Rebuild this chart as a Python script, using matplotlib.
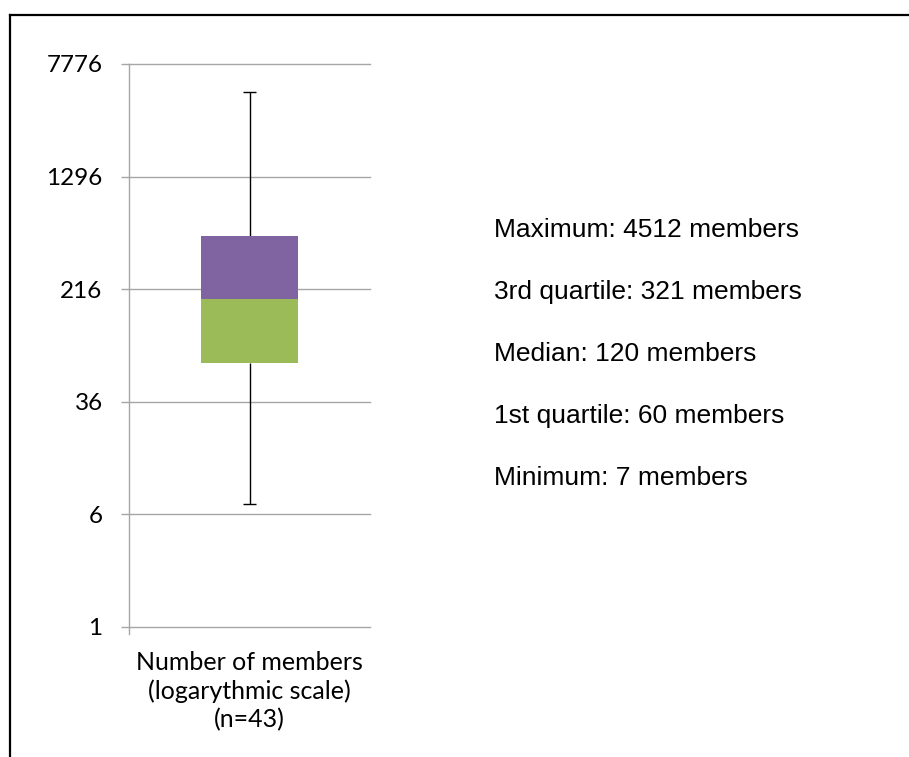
import matplotlib
matplotlib.use("Agg")
import matplotlib.pyplot as plt
from matplotlib.lines import Line2D
from matplotlib.ticker import FixedLocator, NullLocator

# ---- data (values as drawn in the picture) ----
category = ["Number of members", "(logarythmic scale)", "(n=43)"]
plot_min = 7
plot_q1 = 67
plot_median = 185
plot_q3 = 503
plot_max = 4960
y_ticks = [1, 6, 36, 216, 1296, 7776]
y_tick_labels = ["1", "6", "36", "216", "1296", "7776"]

# ---- stated summary values (text) ----
stat_names = ["Maximum", "3rd quartile", "Median", "1st quartile", "Minimum"]
stat_values = [4512, 321, 120, 60, 7]

W, H = 909, 757
fig = plt.figure(figsize=(W / 100, H / 100), dpi=100)
fig.patch.set_facecolor("white")

left, right = 129 / W, 370 / W
top, bottom = 1 - 64 / H, 1 - 626.7 / H
ax = fig.add_axes([left, bottom, right - left, top - bottom])

ax.set_yscale("log", base=6)
ax.set_ylim(y_ticks[0], y_ticks[-1])
ax.set_xlim(0, 1)

grid_col = "#A6A6A6"
ax.yaxis.set_major_locator(FixedLocator(y_ticks))
ax.yaxis.set_minor_locator(NullLocator())
ax.set_yticklabels(y_tick_labels)
ax.grid(axis="y", color=grid_col, linewidth=1.0)
ax.set_axisbelow(True)
for gl in ax.get_ygridlines():
    gl.set_clip_on(False)

for s in ["top", "right", "bottom"]:
    ax.spines[s].set_visible(False)
ax.spines["left"].set_color(grid_col)
ax.spines["left"].set_linewidth(1.0)
ax.add_line(Line2D([0, 0], [-0.013, 0], transform=ax.transAxes, color=grid_col,
                   lw=1.0, clip_on=False))

ax.tick_params(axis="y", which="major", direction="out", length=6, width=1.0,
               color=grid_col, pad=13, labelsize=17.5, labelcolor="#000000")
for t in ax.get_yticklabels():
    t.set_family(["Lato", "DejaVu Sans"])

ax.set_xticks([0.5])
ax.set_xticklabels(["\n".join(category)], fontsize=18, linespacing=1.28,
                   family=["Lato", "DejaVu Sans"], color="#000000")
ax.tick_params(axis="x", length=0, pad=17.5)

# whiskers
center = 0.5
box_w = 0.404
cap = 0.028
ax.vlines(center, plot_q3, plot_max, color="black", lw=1.0, zorder=2)
ax.vlines(center, plot_min, plot_q1, color="black", lw=1.0, zorder=2)
ax.hlines([plot_max, plot_min], center - cap, center + cap, color="black", lw=1.0, zorder=2)

# box (stacked bars)
ax.bar(center, plot_median - plot_q1, bottom=plot_q1, width=box_w,
       color="#9BBB59", zorder=3)
ax.bar(center, plot_q3 - plot_median, bottom=plot_median, width=box_w,
       color="#8064A2", zorder=3)

# stats text
base_y = 237
for i, (n, v) in enumerate(zip(stat_names, stat_values)):
    fig.text(494 / W, 1 - (base_y + 62 * i) / H, f"{n}: {v} members",
             fontsize=19, family=["Liberation Sans", "DejaVu Sans"],
             ha="left", va="baseline", color="#000000")

# frame lines (top and left)
fig.add_artist(Line2D([10 / W, 1], [1 - 15 / H, 1 - 15 / H], transform=fig.transFigure,
                      color="black", lw=1.6))
fig.add_artist(Line2D([10 / W, 10 / W], [0, 1 - 15 / H], transform=fig.transFigure,
                      color="black", lw=1.6))

fig.savefig("out.png", dpi=100, facecolor="white")
